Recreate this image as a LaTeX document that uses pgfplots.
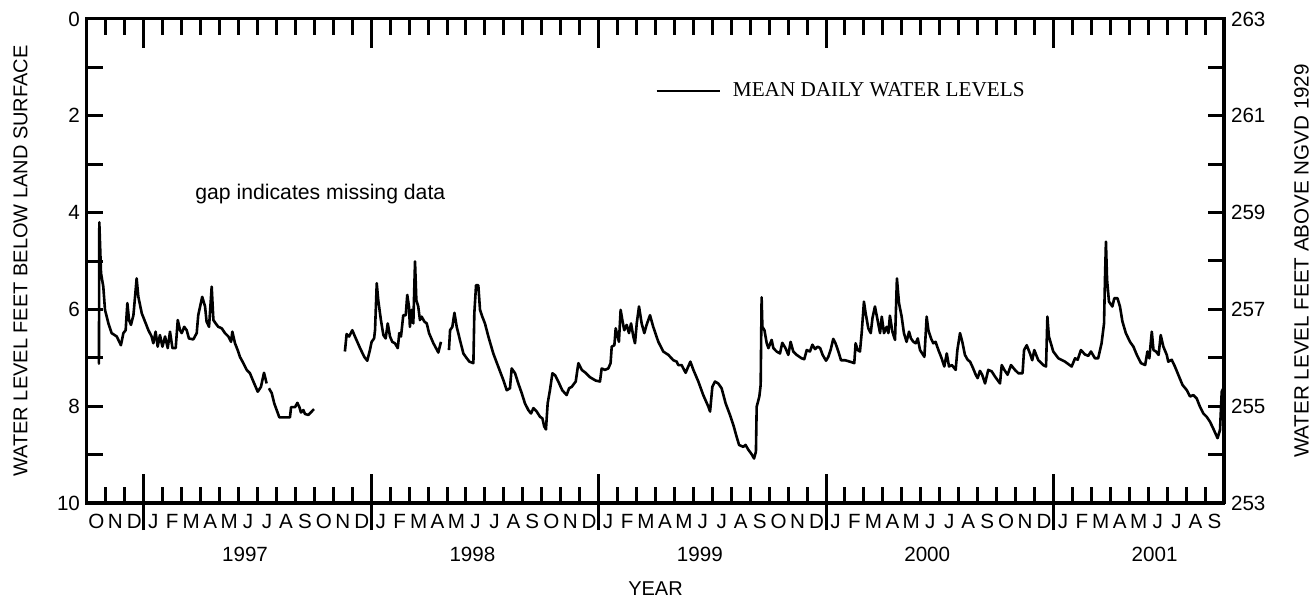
\documentclass[border=0pt]{standalone}
\usepackage{fontspec}
\setmainfont{Liberation Sans}
\newfontfamily\seriffont{Liberation Serif}
\usepackage{pgfplots}
\pgfplotsset{compat=1.18}
\newcommand\lblfont{\fontsize{10.3}{12}\selectfont}
\begin{document}
\begin{tikzpicture}
\pgfplotsset{
  base/.style={width=568.5pt,height=242pt,scale only axis,xmin=0,xmax=60,
    axis line style={line width=1.5pt,line cap=rect},
    tick style={line width=1.5pt,black},
    tick align=inside,
    tick label style={font=\lblfont},
    label style={font=\lblfont},
    /pgf/number format/assume math mode=true},
}
% main axis: data, left scale, month ticks
\begin{axis}[base, ymin=0, ymax=10, y dir=reverse,
  xtick={0,...,60}, xticklabels={},
  ytick={0,...,10}, yticklabels={0,,2,,4,,6,,8,,10}, ytick pos=left,
  major tick length=8.2pt,
  ylabel={WATER LEVEL FEET BELOW LAND SURFACE},
  every axis y label/.style={at={(axis description cs:-0.0585,0.5)},rotate=90,anchor=center,font=\fontsize{10}{12}\selectfont},
  xlabel={YEAR},
  every axis x label/.style={at={(axis description cs:0.5,-0.192)},anchor=base,inner sep=0pt},
  unbounded coords=jump,
  legend style={at={(axis cs:29.97,1.49)},anchor=west,draw=none,fill=none,inner sep=0pt,
    nodes={inner sep=0pt}, column sep=6pt, font=\seriffont\fontsize{10.6}{12}\selectfont},
  legend cell align=left,
  legend image code/.code={\draw[#1] (0pt,0pt) -- (31.5pt,0pt);},
]
\addplot[black, line width=1.3pt, line join=round] table {
x y
0.60 7.12
0.63 7.12
0.65 4.20
0.74 5.25
0.86 5.53
0.95 6.01
1.13 6.29
1.30 6.49
1.57 6.56
1.79 6.74
1.92 6.49
2.04 6.43
2.13 5.87
2.22 6.22
2.32 6.32
2.45 6.12
2.62 5.36
2.71 5.74
2.89 6.08
3.06 6.25
3.24 6.43
3.41 6.56
3.50 6.70
3.62 6.46
3.73 6.77
3.85 6.53
3.98 6.77
4.12 6.56
4.26 6.80
4.38 6.46
4.51 6.80
4.68 6.80
4.79 6.22
4.91 6.43
5.00 6.49
5.13 6.36
5.26 6.43
5.38 6.60
5.61 6.62
5.79 6.49
5.87 6.12
6.08 5.74
6.23 5.94
6.31 6.25
6.44 6.36
6.58 5.53
6.67 6.22
6.79 6.29
6.93 6.36
7.11 6.39
7.28 6.49
7.46 6.56
7.60 6.67
7.67 6.46
7.81 6.70
7.95 6.84
8.07 6.98
8.25 7.11
8.43 7.25
8.60 7.32
8.78 7.49
9.01 7.70
9.18 7.60
9.34 7.31
9.48 7.53
9.54 nan
9.60 7.63
9.75 7.73
9.88 7.94
10.01 8.08
10.15 8.23
10.71 8.23
10.77 8.02
10.98 8.02
11.10 7.93
11.21 8.02
11.29 8.13
11.42 8.08
11.50 8.16
11.68 8.18
11.98 8.06
12.50 nan
13.61 6.87
13.70 6.51
13.83 6.56
14.00 6.43
14.14 6.56
14.41 6.80
14.63 6.98
14.79 7.06
14.93 6.84
15.02 6.67
15.15 6.60
15.20 6.43
15.29 5.46
15.37 5.81
15.51 6.22
15.64 6.53
15.76 6.60
15.87 6.29
15.99 6.56
16.11 6.67
16.25 6.70
16.40 6.80
16.48 6.49
16.57 6.56
16.69 6.12
16.82 6.12
16.90 5.70
16.99 5.94
17.04 6.36
17.13 6.01
17.22 6.29
17.31 5.01
17.38 5.81
17.48 5.94
17.57 6.22
17.66 6.15
17.80 6.25
17.93 6.29
18.05 6.49
18.28 6.70
18.54 6.89
18.68 6.67
18.90 nan
19.10 6.84
19.16 6.43
19.28 6.36
19.39 6.07
19.51 6.36
19.68 6.63
19.86 6.91
20.04 7.01
20.18 7.08
20.39 7.11
20.44 6.08
20.53 5.50
20.65 5.50
20.74 6.01
20.86 6.15
21.00 6.29
21.18 6.56
21.44 6.91
21.70 7.18
21.97 7.46
22.15 7.67
22.32 7.63
22.41 7.22
22.59 7.32
22.76 7.53
22.94 7.73
23.11 7.94
23.29 8.08
23.43 8.15
23.56 8.04
23.73 8.11
23.91 8.22
24.03 8.25
24.13 8.42
24.22 8.48
24.31 7.94
24.43 7.67
24.56 7.32
24.70 7.36
24.87 7.49
25.08 7.67
25.31 7.77
25.44 7.63
25.58 7.60
25.79 7.49
25.93 7.11
26.11 7.25
26.28 7.30
26.54 7.40
26.84 7.47
27.07 7.49
27.16 7.22
27.33 7.25
27.51 7.22
27.63 7.11
27.69 6.77
27.83 6.74
27.90 6.39
28.00 6.56
28.07 6.67
28.16 6.01
28.25 6.22
28.35 6.43
28.48 6.32
28.60 6.49
28.71 6.29
28.83 6.56
28.92 6.70
29.01 6.29
29.13 5.94
29.27 6.29
29.41 6.49
29.53 6.32
29.71 6.12
29.88 6.36
30.15 6.67
30.41 6.87
30.68 6.94
30.94 7.05
31.12 7.08
31.20 7.15
31.38 7.15
31.59 7.31
31.73 7.18
31.84 7.08
32.00 7.25
32.26 7.49
32.52 7.77
32.79 8.01
32.88 8.11
33.00 7.60
33.14 7.49
33.31 7.53
33.49 7.63
33.70 7.94
33.93 8.18
34.11 8.39
34.28 8.63
34.41 8.80
34.63 8.84
34.75 8.80
34.90 8.90
35.07 8.99
35.20 9.08
35.30 8.94
35.34 8.01
35.48 7.80
35.55 7.56
35.60 5.75
35.64 6.36
35.75 6.43
35.87 6.70
35.96 6.80
36.13 6.63
36.22 6.80
36.39 6.87
36.57 6.91
36.69 6.69
36.86 6.80
37.01 6.94
37.13 6.67
37.27 6.87
37.45 6.94
37.71 7.01
37.85 7.03
37.98 6.84
38.15 6.87
38.28 6.73
38.42 6.82
38.56 6.77
38.69 6.80
38.82 6.94
39.00 7.06
39.12 6.98
39.24 6.84
39.38 6.61
39.50 6.70
39.65 6.87
39.79 7.05
40.00 7.05
40.26 7.08
40.49 7.11
40.56 6.70
40.67 6.84
40.79 6.87
40.88 6.49
41.00 5.84
41.09 6.08
41.23 6.39
41.36 6.49
41.45 6.18
41.58 5.94
41.70 6.18
41.85 6.49
41.94 6.15
42.06 6.49
42.20 6.36
42.29 6.49
42.37 6.13
42.50 6.46
42.64 6.63
42.74 5.36
42.85 5.87
42.99 6.15
43.11 6.49
43.25 6.67
43.38 6.46
43.48 6.60
43.61 6.67
43.73 6.70
43.84 6.60
43.96 6.84
44.19 6.98
44.31 6.15
44.40 6.43
44.54 6.60
44.66 6.70
44.78 6.67
44.93 6.84
45.10 7.01
45.24 7.18
45.37 6.91
45.49 7.18
45.64 7.15
45.84 7.25
45.93 6.84
46.07 6.49
46.19 6.67
46.33 6.94
46.47 7.04
46.60 7.08
46.72 7.18
46.90 7.35
47.00 7.42
47.12 7.27
47.24 7.35
47.39 7.53
47.56 7.25
47.74 7.28
47.92 7.39
48.18 7.53
48.27 7.15
48.41 7.25
48.58 7.35
48.76 7.15
48.97 7.25
49.15 7.32
49.37 7.32
49.45 6.84
49.59 6.74
49.76 6.91
49.88 7.05
49.99 6.84
50.20 7.05
50.29 7.08
50.46 7.15
50.61 7.18
50.68 6.15
50.76 6.56
50.99 6.87
51.26 7.01
51.61 7.08
51.96 7.18
52.14 7.01
52.28 7.04
52.45 6.84
52.66 6.93
52.84 6.96
52.98 6.87
53.19 7.01
53.36 7.01
53.54 6.70
53.67 6.29
53.72 5.36
53.77 4.60
53.83 5.39
53.93 5.84
54.11 5.94
54.21 5.77
54.38 5.77
54.51 5.94
54.64 6.25
54.82 6.49
55.04 6.67
55.22 6.77
55.40 6.94
55.62 7.11
55.84 7.15
55.96 6.87
56.06 7.01
56.19 6.46
56.28 6.84
56.41 6.87
56.55 6.94
56.66 6.53
56.80 6.77
56.98 6.94
57.06 7.08
57.24 7.04
57.41 7.18
57.63 7.39
57.81 7.56
58.04 7.67
58.21 7.80
58.38 7.77
58.56 7.84
58.73 8.01
58.91 8.15
59.09 8.22
59.26 8.32
59.43 8.46
59.66 8.66
59.79 8.49
59.88 7.70
59.97 7.63
};
\addlegendentry{MEAN DAILY WATER LEVELS}
\node[anchor=west,inner sep=0pt,font=\fontsize{10.6}{12}\selectfont] at (axis cs:5.70,3.62) {gap indicates missing data};
\end{axis}
% year ticks, inward top and bottom
\begin{axis}[base, ymin=0, ymax=10, hide y axis,
  xtick={3,15,27,39,51}, xticklabels={}, major tick length=14.5pt]
\end{axis}
% year ticks, outward at bottom
\begin{axis}[base, ymin=0, ymax=10, hide y axis, axis x line*=bottom,
  tick align=outside, xtick={3,15,27,39,51}, xticklabels={}, major tick length=13.5pt]
\end{axis}
% month letters
\begin{axis}[base, ymin=0, ymax=10, hide y axis, axis x line*=bottom,
  xtick={0.5,1.5,...,59.5}, major tick length=0pt,
  xticklabels={O,N,D,J,F,M,A,M,J,J,A,S,O,N,D,J,F,M,A,M,J,J,A,S,O,N,D,J,F,M,A,M,J,J,A,S,O,N,D,J,F,M,A,M,J,J,A,S,O,N,D,J,F,M,A,M,J,J,A,S},
  xticklabel style={anchor=base,yshift=-13pt,inner sep=0pt}]
\end{axis}
% year labels
\begin{axis}[base, ymin=0, ymax=10, hide y axis, axis x line*=bottom,
  xtick={8.34,20.34,32.34,44.34,56.34}, major tick length=0pt,
  xticklabels={1997,1998,1999,2000,2001},
  xticklabel style={anchor=base,yshift=-29.5pt,inner sep=0pt}]
\end{axis}
% right scale
\begin{axis}[base, ymin=253, ymax=263, hide x axis, axis y line*=right,
  ytick={253,...,263}, yticklabels={253,,255,,257,,259,,261,,263},
  major tick length=8.2pt,
  ylabel={WATER LEVEL FEET ABOVE NGVD 1929},
  every axis y label/.style={at={(axis description cs:1.0745,0.5)},rotate=90,anchor=base,inner sep=0pt,font=\fontsize{10.3}{12}\selectfont}]
\end{axis}
\pgfresetboundingbox
\path[use as bounding box] (-43.5pt,-48pt) rectangle (613.5pt,251.5pt);
\end{tikzpicture}
\end{document}
